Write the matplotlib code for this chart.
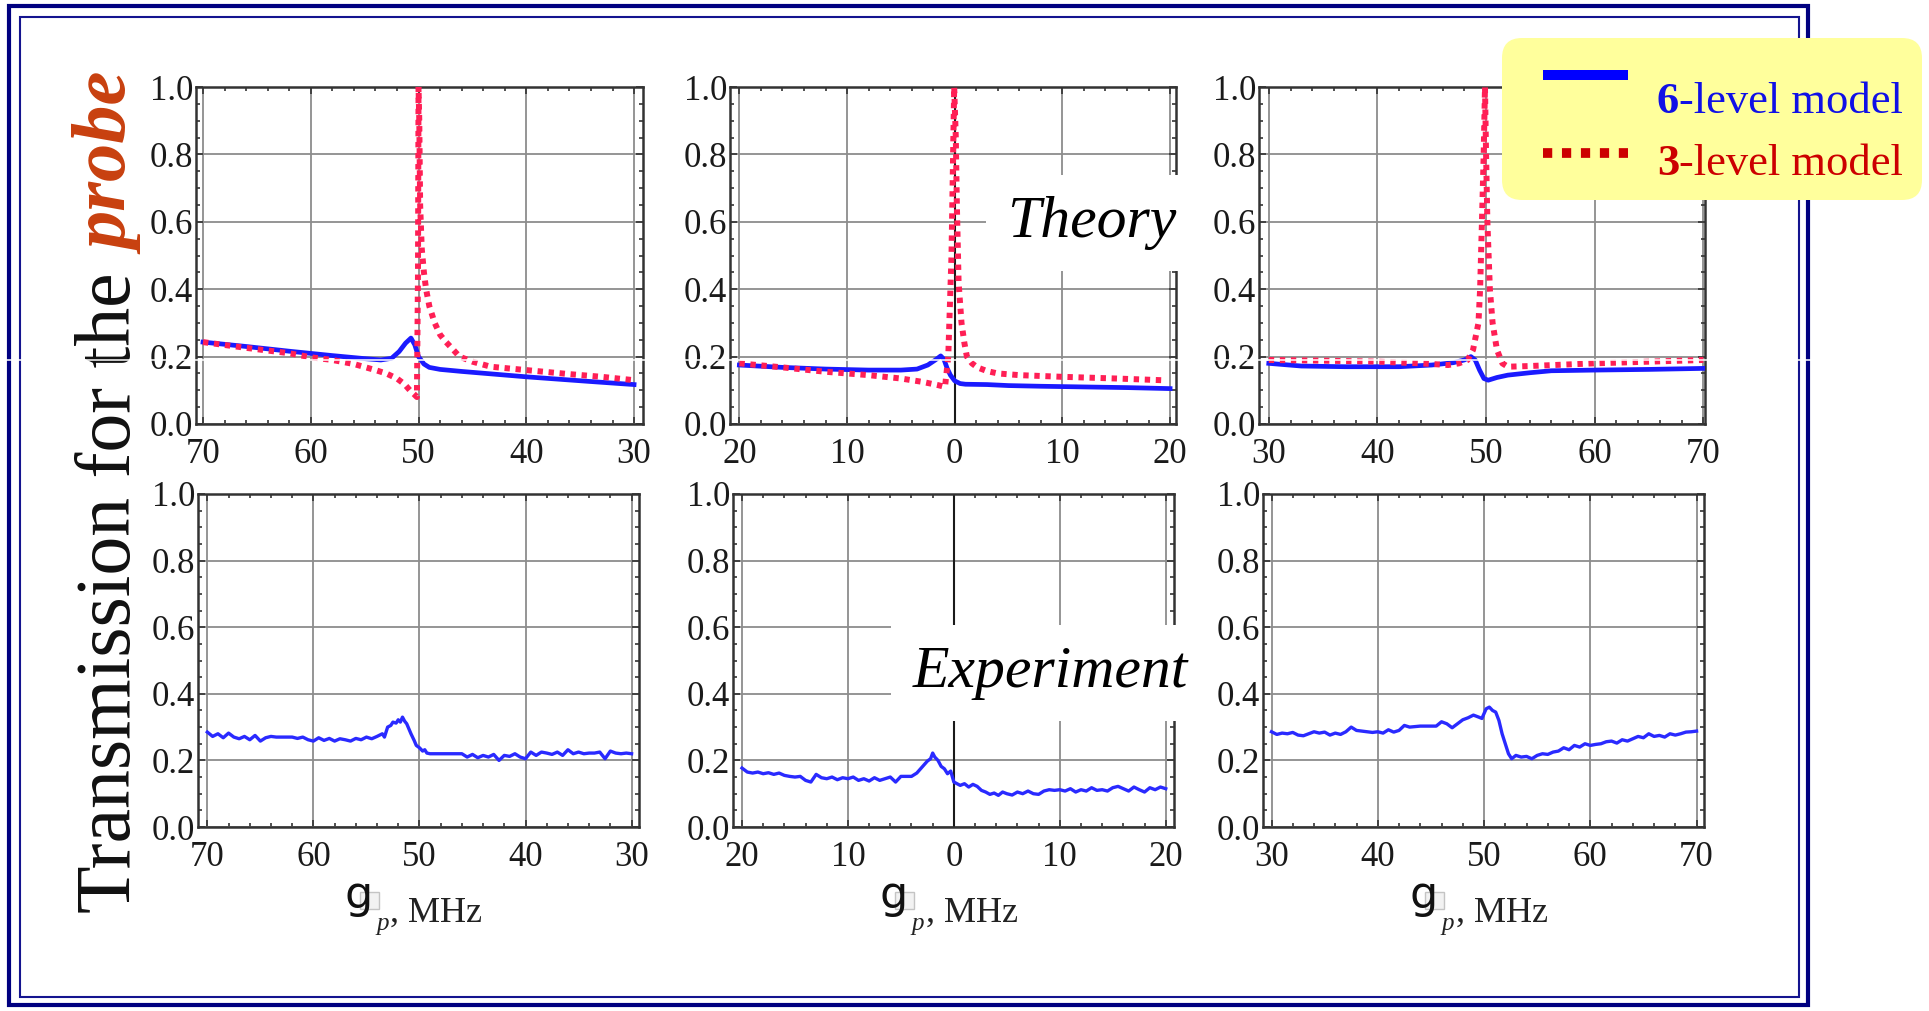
import matplotlib
matplotlib.use("Agg")
import matplotlib.pyplot as plt
import matplotlib.ticker as mticker
from matplotlib.patches import Rectangle, FancyBboxPatch
from matplotlib.lines import Line2D

# ---------------------------------------------------------------------------
# Data
# ---------------------------------------------------------------------------
# Theory, left column (axis runs 70 -> 30 MHz)
th1_x6 = [70, 66, 62, 58, 55, 53.5, 52.5, 51.8, 51.2, 50.7, 50.35, 50.0, 49.5,
          49.0, 48.0, 46, 43, 40, 37, 34, 30]
th1_y6 = [0.243, 0.230, 0.216, 0.203, 0.194, 0.190, 0.195, 0.215, 0.240, 0.255,
          0.235, 0.200, 0.178, 0.168, 0.162, 0.156, 0.148, 0.140, 0.133, 0.126, 0.117]
th1_x3 = [70, 66, 62, 60, 58, 56, 54, 53, 52, 51.3, 50.8, 50.4, 50.15, 50.05, 50.0,
          49.93, 49.85, 49.7, 49.5, 49.3, 49.0, 48.5, 48.0, 47.5, 47.0, 46.2, 45,
          43.3, 41, 39, 36, 33, 30]
th1_y3 = [0.243, 0.226, 0.210, 0.198, 0.190, 0.178, 0.160, 0.150, 0.135, 0.118,
          0.100, 0.088, 0.080, 0.450, 1.000, 0.900, 0.650, 0.520, 0.450, 0.400,
          0.350, 0.300, 0.265, 0.245, 0.228, 0.200, 0.185, 0.170, 0.163, 0.157,
          0.148, 0.140, 0.130]

# Theory, middle column (axis runs -20 -> 20 MHz, labels in absolute value)
th2_x6 = [-20, -16, -12, -8, -5, -3.5, -2.5, -1.8, -1.3, -1.0, -0.7, -0.4, 0.0,
          0.5, 1, 3, 5, 8, 12, 16, 20]
th2_y6 = [0.175, 0.168, 0.163, 0.160, 0.160, 0.163, 0.175, 0.190, 0.202, 0.192,
          0.165, 0.145, 0.128, 0.120, 0.118, 0.117, 0.114, 0.112, 0.110, 0.108, 0.105]
th2_x3 = [-20, -16, -12, -8, -5, -3, -1.5, -0.9, -0.6, -0.3, -0.05, 0.1, 0.2,
          0.36, 0.63, 0.9, 1.13, 1.6, 2.1, 3, 4, 6, 10, 15, 19.2]
th2_y3 = [0.180, 0.168, 0.155, 0.145, 0.135, 0.125, 0.115, 0.110, 0.200, 0.500,
          1.000, 0.850, 0.650, 0.420, 0.300, 0.240, 0.200, 0.180, 0.168, 0.157,
          0.150, 0.145, 0.140, 0.135, 0.130]

# Theory, right column (axis runs 30 -> 70 MHz)
th3_x6 = [30, 33, 37, 42, 45, 47, 48, 48.6, 49.0, 49.4, 49.8, 50.2, 51, 52, 54,
          56, 60, 65, 70]
th3_y6 = [0.180, 0.172, 0.170, 0.170, 0.175, 0.182, 0.190, 0.200, 0.190, 0.160,
          0.135, 0.130, 0.138, 0.145, 0.152, 0.158, 0.160, 0.162, 0.165]
th3_x3 = [30, 35, 40, 44, 46.5, 47.5, 48.3, 48.8, 49.3, 49.45, 49.62, 49.78, 49.9,
          50.0, 50.12, 50.35, 50.6, 51.0, 51.5, 52, 54, 57, 60, 63, 66, 70]
th3_y3 = [0.190, 0.188, 0.185, 0.180, 0.175, 0.180, 0.190, 0.220, 0.300, 0.400,
          0.600, 0.800, 1.000, 0.800, 0.600, 0.400, 0.300, 0.220, 0.180, 0.170,
          0.172, 0.176, 0.180, 0.183, 0.186, 0.190]

# Experiment, left column
ex1_x = [70.0, 69.5, 69.0, 68.5, 68.0, 67.5, 67.0, 66.5, 66.0, 65.5, 65.0, 64.5,
         64.0, 63.5, 63.0, 62.5, 62.0, 61.5, 61.0, 60.5, 60.0, 59.5, 59.0, 58.5,
         58.0, 57.5, 57.0, 56.5, 56.0, 55.5, 55.0, 54.5, 54.0, 53.5, 53.3, 53.0,
         52.7, 52.5, 52.2, 52.0, 51.8, 51.6, 51.4, 51.2, 51.0, 50.8, 50.5, 50.3,
         50.0, 49.7, 49.5, 49.3, 49.0, 48.0, 47.0, 46.0, 45.5, 45.0, 44.5, 44.0,
         43.5, 43.0, 42.5, 42.0, 41.5, 41.0, 40.5, 40.0, 39.5, 39.0, 38.5, 38.0,
         37.5, 37.0, 36.5, 36.0, 35.5, 35.0, 34.5, 34.0, 33.5, 33.0, 32.5, 32.0,
         31.5, 31.0, 30.5, 30.0]
ex1_y = [0.285, 0.272, 0.280, 0.268, 0.282, 0.270, 0.265, 0.272, 0.262, 0.275,
         0.258, 0.268, 0.272, 0.270, 0.270, 0.270, 0.270, 0.266, 0.270, 0.262,
         0.258, 0.268, 0.260, 0.266, 0.258, 0.265, 0.262, 0.258, 0.266, 0.262,
         0.270, 0.265, 0.272, 0.280, 0.270, 0.300, 0.305, 0.315, 0.312, 0.322,
         0.315, 0.330, 0.318, 0.310, 0.295, 0.280, 0.260, 0.245, 0.238, 0.228,
         0.232, 0.222, 0.220, 0.220, 0.220, 0.220, 0.210, 0.218, 0.208, 0.215,
         0.210, 0.218, 0.200, 0.215, 0.212, 0.220, 0.210, 0.205, 0.225, 0.215,
         0.225, 0.222, 0.218, 0.225, 0.215, 0.232, 0.220, 0.225, 0.220, 0.222,
         0.222, 0.225, 0.205, 0.228, 0.222, 0.220, 0.222, 0.220]

# Experiment, middle column
ex2_x = [-20.0, -19.5, -19.0, -18.5, -18.0, -17.5, -17.0, -16.5, -16.0, -15.5,
         -15.0, -14.5, -14.0, -13.5, -13.0, -12.5, -12.0, -11.5, -11.0, -10.5,
         -10.0, -9.5, -9.0, -8.5, -8.0, -7.5, -7.0, -6.5, -6.0, -5.5, -5.0, -4.5,
         -4.0, -3.5, -3.0, -2.5, -2.2, -2.0, -1.8, -1.5, -1.2, -0.9, -0.6, -0.3,
         0.0, 0.3, 0.6, 1.0, 1.4, 1.8, 2.2, 2.6, 3.0, 3.4, 3.8, 4.2, 4.6, 5.0,
         5.5, 6.0, 6.5, 7.0, 7.5, 8.0, 8.5, 9.0, 9.5, 10.0, 10.5, 11.0, 11.5, 12.0,
         12.5, 13.0, 13.5, 14.0, 14.5, 15.0, 15.5, 16.0, 16.5, 17.0, 17.5, 18.0,
         18.5, 19.0, 19.5, 20.0]
ex2_y = [0.177, 0.165, 0.162, 0.165, 0.160, 0.163, 0.158, 0.162, 0.155, 0.152,
         0.150, 0.152, 0.140, 0.135, 0.158, 0.148, 0.145, 0.150, 0.142, 0.148,
         0.145, 0.150, 0.140, 0.145, 0.138, 0.148, 0.140, 0.145, 0.150, 0.135,
         0.152, 0.152, 0.152, 0.162, 0.180, 0.198, 0.205, 0.222, 0.210, 0.200,
         0.182, 0.175, 0.160, 0.168, 0.135, 0.130, 0.125, 0.130, 0.120, 0.128,
         0.122, 0.110, 0.105, 0.098, 0.102, 0.095, 0.105, 0.100, 0.096, 0.105,
         0.100, 0.108, 0.100, 0.098, 0.108, 0.112, 0.110, 0.112, 0.108, 0.115,
         0.105, 0.112, 0.108, 0.118, 0.110, 0.112, 0.108, 0.118, 0.122, 0.115,
         0.108, 0.120, 0.112, 0.105, 0.118, 0.112, 0.120, 0.115]

# Experiment, right column
ex3_x = [30.0, 30.5, 31.0, 31.5, 32.0, 32.5, 33.0, 33.5, 34.0, 34.5, 35.0, 35.5,
         36.0, 36.5, 37.0, 37.5, 38.0, 38.5, 39.0, 39.5, 40.0, 40.5, 41.0, 41.5,
         42.0, 42.5, 43.0, 44.0, 45.0, 45.5, 46.0, 46.5, 47.0, 47.5, 48.0, 48.5,
         49.0, 49.5, 49.8, 50.2, 50.5, 50.8, 51.1, 51.4, 51.7, 52.0, 52.3, 52.6,
         53.0, 53.5, 54.0, 54.5, 55.0, 55.5, 56.0, 56.5, 57.0, 57.5, 58.0, 58.5,
         59.0, 59.5, 60.0, 60.5, 61.0, 61.5, 62.0, 62.5, 63.0, 63.5, 64.0, 64.5,
         65.0, 65.5, 66.0, 66.5, 67.0, 67.5, 68.0, 68.5, 69.0, 69.5, 70.0]
ex3_y = [0.286, 0.278, 0.282, 0.280, 0.284, 0.276, 0.274, 0.280, 0.286, 0.282,
         0.285, 0.276, 0.282, 0.278, 0.286, 0.300, 0.290, 0.288, 0.286, 0.284,
         0.286, 0.282, 0.292, 0.285, 0.290, 0.305, 0.300, 0.303, 0.303, 0.303,
         0.316, 0.310, 0.298, 0.310, 0.322, 0.328, 0.336, 0.330, 0.326, 0.355,
         0.360, 0.350, 0.345, 0.320, 0.280, 0.250, 0.220, 0.205, 0.215, 0.210,
         0.212, 0.205, 0.215, 0.220, 0.218, 0.225, 0.228, 0.238, 0.232, 0.245,
         0.240, 0.250, 0.245, 0.248, 0.250, 0.256, 0.258, 0.252, 0.262, 0.258,
         0.265, 0.272, 0.268, 0.280, 0.272, 0.275, 0.270, 0.280, 0.276, 0.280,
         0.285, 0.286, 0.288]

y_ticks = [0.0, 0.2, 0.4, 0.6, 0.8, 1.0]
x_ticks = [[70, 60, 50, 40, 30], [-20, -10, 0, 10, 20], [30, 40, 50, 60, 70]]
legend_labels = [("6", "-level model"), ("3", "-level model")]

# ---------------------------------------------------------------------------
# Style
# ---------------------------------------------------------------------------
W, H = 1929, 1011
plt.rcParams["font.family"] = ["Liberation Serif", "DejaVu Serif"]

BLUE = "#1a1aff"
RED = "#ff1f55"
GRID = "#8c8c8c"
NAVY = "#000080"

fig = plt.figure(figsize=(W / 100, H / 100), dpi=100)
fig.patch.set_facecolor("white")


def px_axes(l, t, r, b):
    """Axes from a pixel box (measured from the top-left corner)."""
    return fig.add_axes([l / W, 1 - b / H, (r - l) / W, (b - t) / H])


def inch(x, y):
    return x / 100, (H - y) / 100


top_boxes = [(196, 87, 643, 424), (730, 87, 1176, 424), (1259, 87, 1705, 424)]
bot_boxes = [(198, 494, 639, 827), (733, 494, 1174, 827), (1263, 494, 1704, 827)]
top_lims = [(70.65, 29.17), (-20.87, 20.55), (29.1, 70.15)]
bot_lims = [(70.88, 29.3), (-20.85, 20.78), (29.2, 70.7)]

theory = [(th1_x6, th1_y6, th1_x3, th1_y3),
          (th2_x6, th2_y6, th2_x3, th2_y3),
          (th3_x6, th3_y6, th3_x3, th3_y3)]
experiment = [(ex1_x, ex1_y), (ex2_x, ex2_y), (ex3_x, ex3_y)]


def style_axes(ax, col, xlim):
    ax.set_xlim(*xlim)
    ax.set_ylim(0, 1.0)
    ax.set_xticks(x_ticks[col])
    ax.set_yticks(y_ticks)
    ax.xaxis.set_minor_locator(mticker.MultipleLocator(2))
    ax.yaxis.set_minor_locator(mticker.MultipleLocator(0.05))
    if col == 1:
        ax.xaxis.set_major_formatter(mticker.FuncFormatter(lambda v, p: f"{abs(v):.0f}"))
        ax.axvline(0, color="#1a1a1a", lw=1.5, zorder=1.5)
    ax.yaxis.set_major_formatter(mticker.FormatStrFormatter("%.1f"))
    ax.grid(True, which="major", color=GRID, lw=1.3)
    ax.set_axisbelow(True)
    ax.tick_params(which="both", direction="in", top=True, right=True,
                   color="#333333", width=1.2)
    ax.tick_params(which="major", length=5)
    ax.tick_params(which="minor", length=3)
    ax.tick_params(axis="x", labelsize=25, pad=10, labelcolor="#1a1a1a")
    ax.tick_params(axis="y", labelsize=25, pad=2, labelcolor="#1a1a1a")
    for sp in ax.spines.values():
        sp.set_color("#333333")
        sp.set_linewidth(1.8)


for col in range(3):
    ax = px_axes(*top_boxes[col])
    style_axes(ax, col, top_lims[col])
    x6, y6, x3, y3 = theory[col]
    ax.plot(x6, y6, color=BLUE, lw=3.4, zorder=3)
    ax.plot(x3, y3, color=RED, lw=4.3, dashes=(0.9, 0.95), zorder=4)

    ax = px_axes(*bot_boxes[col])
    style_axes(ax, col, bot_lims[col])
    ex, ey = experiment[col]
    ax.plot(ex, ey, color="#2a2aff", lw=2.4, zorder=3)

# ---------------------------------------------------------------------------
# Labels in the panels
# ---------------------------------------------------------------------------
box_kw = dict(boxstyle="square,pad=0.35", fc="white", ec="none")
fig.text(1092 / W, 1 - 237 / H, "Theory", fontsize=43, style="italic",
         ha="center", va="baseline", bbox=box_kw, zorder=4)
fig.text(1050 / W, 1 - 687 / H, "Experiment", fontsize=43, style="italic",
         ha="center", va="baseline", bbox=box_kw, zorder=4)

renderer = fig.canvas.get_renderer()


def put_pieces(x0, y0, pieces):
    """Write text pieces one after another on a common baseline (pixels)."""
    x = x0
    for s, kw in pieces:
        t = fig.text(x / W, 1 - y0 / H, s, ha="left", va="baseline", **kw)
        x = t.get_window_extent(renderer).x1


# x labels: "g", a missing-glyph box, subscript p, ", MHz"
for l, t, r, b in bot_boxes:
    x0 = (l + r) / 2 - 73
    fig.add_artist(Rectangle(inch(x0 + 14, 909), 0.19, 0.17,
                             transform=fig.dpi_scale_trans, fc="#f2f2f2",
                             ec="#c4c4c4", lw=1.0, zorder=1))
    fig.text((x0 - 1) / W, 1 - 908 / H, "g", fontsize=32, family="DejaVu Sans",
             ha="left", va="baseline", color="#111111", zorder=3)
    fig.text((x0 + 31) / W, 1 - 930 / H, "p", fontsize=18, style="italic",
             ha="left", va="baseline", color="#222222")
    fig.text((x0 + 45) / W, 1 - 922 / H, ", MHz", fontsize=26,
             ha="left", va="baseline", color="#222222")

# y label, rotated, "probe" in bold italic orange-red
t1 = fig.text(130 / W, 1 - 913 / H, "Transmission for the", fontsize=56,
              rotation=90, rotation_mode="anchor", ha="left", va="baseline",
              color="#111111")
y_top = t1.get_window_extent(renderer).y1
fig.text(130 / W, (y_top + 18) / H, "probe", fontsize=55, rotation=90,
         rotation_mode="anchor", ha="left", va="baseline", style="italic",
         weight="bold", color="#c8400f")

# ---------------------------------------------------------------------------
# Double navy frame
# ---------------------------------------------------------------------------
fig.add_artist(Rectangle(inch(9, 1005), 17.99, 9.99, transform=fig.dpi_scale_trans,
                         fill=False, ec=NAVY, lw=3.0, zorder=0.5))
fig.add_artist(Rectangle(inch(20, 997), 17.79, 9.80, transform=fig.dpi_scale_trans,
                         fill=False, ec="#14148f", lw=1.5, zorder=0.5))

# scan artefact: thin white line across the picture
fig.add_artist(Line2D([0, 1], [1 - 359.5 / H] * 2, transform=fig.transFigure,
                      color="white", lw=1.1, zorder=8))

# ---------------------------------------------------------------------------
# Legend
# ---------------------------------------------------------------------------
fig.add_artist(FancyBboxPatch(inch(1502, 200), 4.2, 1.62,
                              boxstyle="round,pad=0,rounding_size=0.2",
                              transform=fig.dpi_scale_trans, fc="#ffff9c",
                              ec="none", zorder=9))
fig.add_artist(Line2D([15.43, 16.28], [(H - 75) / 100] * 2,
                      transform=fig.dpi_scale_trans, color="#0000ff", lw=7.2,
                      solid_capstyle="butt", zorder=10))
fig.add_artist(Line2D([15.43, 16.28], [(H - 153) / 100] * 2,
                      transform=fig.dpi_scale_trans, color="#cc0000", lw=7.0,
                      dashes=(0.95, 1.0), dash_capstyle="butt", zorder=10))

for (num, rest), base, c in zip(legend_labels, [113, 175], ["#1010e6", "#cc0000"]):
    put_pieces(1657, base, [(num, dict(fontsize=32, weight="bold", color=c, zorder=10)),
                            (rest, dict(fontsize=32, color=c, zorder=10))])

fig.savefig("out.png", dpi=100)
